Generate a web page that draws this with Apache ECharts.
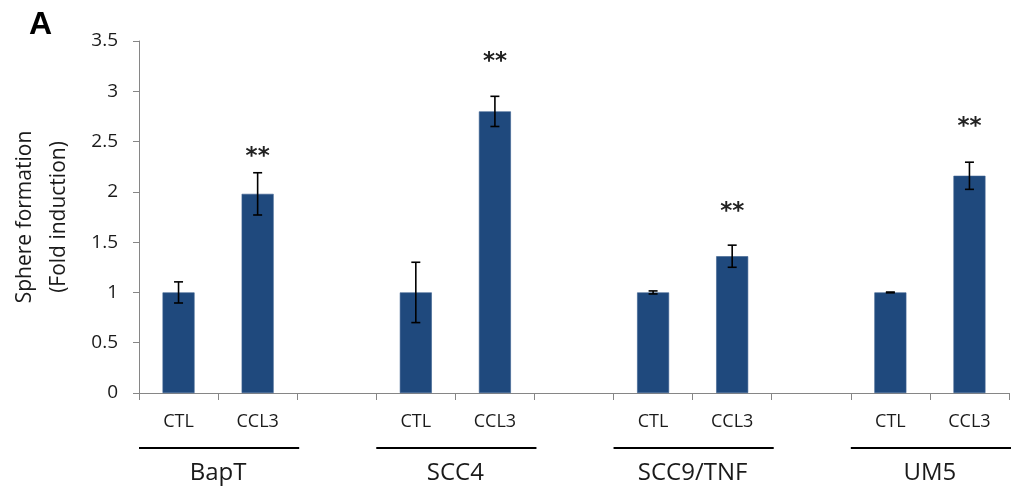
<!DOCTYPE html>
<html>
<head>
<meta charset="utf-8">
<script src="https://cdn.jsdelivr.net/npm/echarts@6/dist/echarts.min.js"></script>
<style>
html,body{margin:0;padding:0;background:#fff;}
#chart{width:1013px;height:496px;}
</style>
</head>
<body>
<div id="chart"></div>
<script>
// ---- data ----
const groups = ['BapT', 'SCC4', 'SCC9/TNF', 'UM5'];
const conditions = ['CTL', 'CCL3'];
const ctlMeans = [1.0, 1.0, 1.0, 1.0];
const ctlErrors = [0.105, 0.30, 0.015, 0.004];
const ccl3Means = [1.98, 2.80, 1.36, 2.16];
const ccl3Errors = [0.21, 0.15, 0.11, 0.135];
const significance = ['**', '**', '**', '**'];
const starLevels = [2.35, 3.29, 1.80, 2.64];
const yTicks = [0, 0.5, 1, 1.5, 2, 2.5, 3, 3.5];

// ---- build slots ----
const slots = [];
const barData = [];
const errData = [];
const starData = [];
const groupData = [];
groups.forEach((g, i) => {
  const s = slots.length;
  groupData.push([s, g]);
  slots.push(conditions[0]); barData.push(ctlMeans[i]); errData.push([s, ctlMeans[i], ctlErrors[i]]);
  slots.push(conditions[1]); barData.push(ccl3Means[i]); errData.push([s + 1, ccl3Means[i], ccl3Errors[i]]);
  starData.push([s + 1, starLevels[i], significance[i]]);
  if (i < groups.length - 1) { slots.push(''); barData.push('-'); }
});

const FONT = '"Open Sans", sans-serif';
const chart = echarts.init(document.getElementById('chart'));
chart.setOption({
  animation: false,
  backgroundColor: '#ffffff',
  grid: { left: 139, right: 4, top: 41, bottom: 103 },
  graphic: [{
    type: 'text', left: 29, top: 9,
    style: { text: 'A', font: 'bold 32px "Liberation Sans", Arial, sans-serif', fill: '#000' }
  }],
  xAxis: {
    type: 'category',
    data: slots,
    axisLine: { lineStyle: { color: '#868686', width: 1 } },
    axisTick: { show: true, length: 7, interval: 0, lineStyle: { color: '#868686' } },
    axisLabel: { interval: 0, margin: 20, color: '#1a1a1a', fontSize: 18, fontFamily: FONT }
  },
  yAxis: {
    type: 'value',
    min: yTicks[0], max: yTicks[yTicks.length - 1], interval: 0.5,
    name: 'Sphere formation\n(Fold induction)',
    nameLocation: 'middle',
    nameRotate: 90,
    nameGap: 63,
    nameTextStyle: { fontSize: 21, fontFamily: FONT, color: '#1a1a1a', lineHeight: 34 },
    axisLine: { show: true, lineStyle: { color: '#868686', width: 1 } },
    axisTick: { show: true, length: 6, lineStyle: { color: '#868686' } },
    splitLine: { show: false },
    axisLabel: { margin: 21, color: '#1a1a1a', fontSize: 19, fontFamily: FONT }
  },
  series: [
    {
      type: 'bar',
      data: barData,
      barWidth: 32,
      itemStyle: { color: '#1F497D', borderColor: '#3a5f8f', borderWidth: 0.6 },
      z: 2
    },
    {
      type: 'custom',
      data: errData,
      clip: false,
      z: 5,
      renderItem: function (params, api) {
        const x = api.value(0), m = api.value(1), e = api.value(2);
        const top = api.coord([x, m + e]);
        const bot = api.coord([x, m - e]);
        const hw = 4.5;
        const st = { stroke: '#000', lineWidth: 1.6 };
        return {
          type: 'group',
          children: [
            { type: 'line', shape: { x1: top[0], y1: top[1], x2: bot[0], y2: bot[1] }, style: st },
            { type: 'line', shape: { x1: top[0] - hw, y1: top[1], x2: top[0] + hw, y2: top[1] }, style: st },
            { type: 'line', shape: { x1: bot[0] - hw, y1: bot[1], x2: bot[0] + hw, y2: bot[1] }, style: st }
          ]
        };
      }
    },
    {
      type: 'custom',
      data: starData,
      clip: false,
      z: 5,
      renderItem: function (params, api) {
        const p = api.coord([api.value(0), api.value(1)]);
        return {
          type: 'text',
          x: p[0], y: p[1],
          style: {
            text: starData[params.dataIndex][2],
            font: 'bold 23px "DejaVu Sans", sans-serif',
            fill: '#222',
            align: 'center', verticalAlign: 'middle'
          }
        };
      }
    },
    {
      type: 'custom',
      data: groupData,
      clip: false,
      z: 5,
      renderItem: function (params, api) {
        const s = api.value(0);
        const p = api.coord([s, 0]);
        const w = api.size([1, 0])[0];
        const yLine = p[1] + 55;
        return {
          type: 'group',
          children: [
            { type: 'line', shape: { x1: p[0] - w / 2, y1: yLine, x2: p[0] + w * 1.5 + 2, y2: yLine },
              style: { stroke: '#000', lineWidth: 1.8 } },
            { type: 'text', x: p[0] + w / 2, y: p[1] + 80,
              style: { text: groupData[params.dataIndex][1], font: '24px ' + FONT, fill: '#1a1a1a',
                align: 'center', verticalAlign: 'middle' } }
          ]
        };
      }
    }
  ]
});
</script>
</body>
</html>
